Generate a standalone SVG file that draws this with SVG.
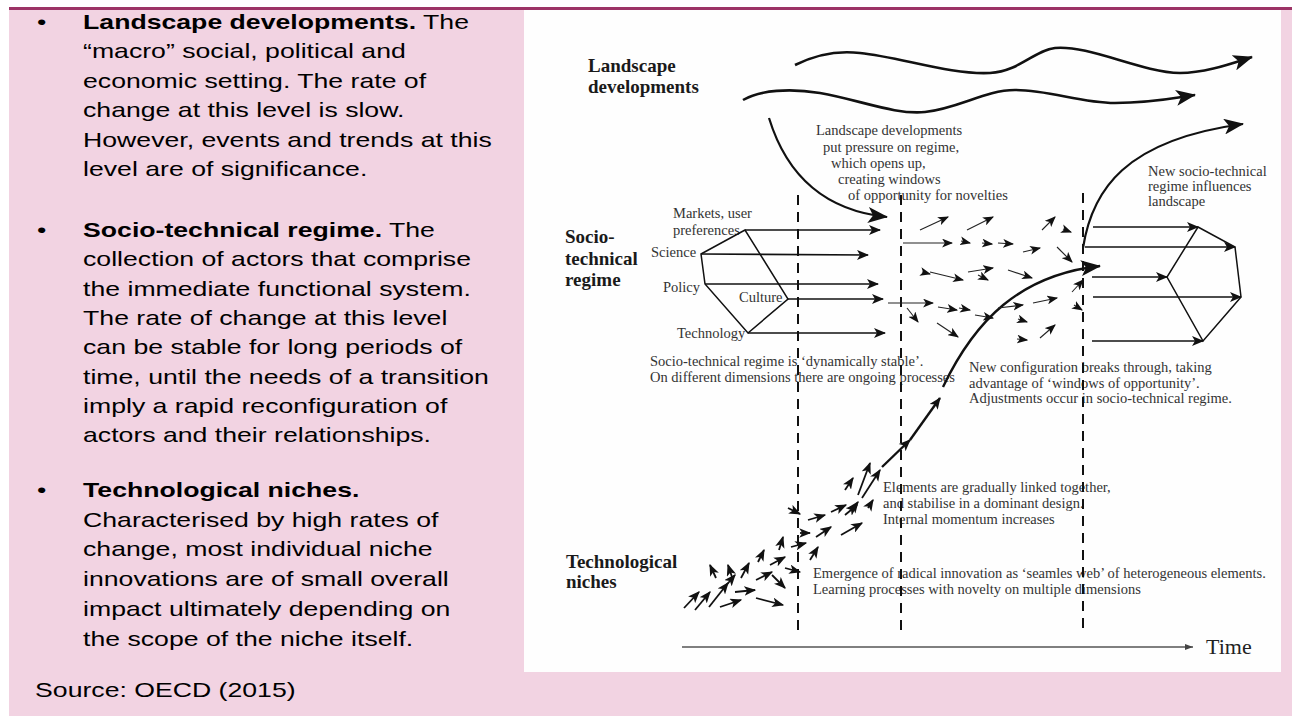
<svg xmlns="http://www.w3.org/2000/svg" width="1292" height="716" viewBox="0 0 1292 716">
<style>
.lt{font-family:"Liberation Sans",Arial,sans-serif;font-size:20px;fill:#000}
.b{font-weight:bold}
.dh{font-family:"Liberation Serif","Times New Roman",serif;font-weight:bold;font-size:19px;fill:#1a1a1a}
.dt{font-family:"Liberation Serif","Times New Roman",serif;font-size:14.5px;fill:#333}
.dash{stroke:#111;stroke-width:2;stroke-dasharray:10 7;fill:none}
.sa{stroke:#222;stroke-width:1.1;fill:none;marker-end:url(#mS)}
.na{stroke:#111;stroke-width:1.8;fill:none;marker-end:url(#mN)}
.ra{stroke:#111;stroke-width:1.6;fill:none;marker-end:url(#mM)}
.wv{stroke:#111;stroke-width:2.6;fill:none;marker-end:url(#mL)}
</style>
<defs>
<marker id="mS" viewBox="0 0 10 8" refX="9" refY="4" markerWidth="11" markerHeight="9" orient="auto" markerUnits="userSpaceOnUse"><path d="M0,0 L10,4 L0,8 L2.5,4 z" fill="#111"/></marker>
<marker id="mN" viewBox="0 0 10 8" refX="9" refY="4" markerWidth="12" markerHeight="10" orient="auto" markerUnits="userSpaceOnUse"><path d="M0,0 L10,4 L0,8 L2.5,4 z" fill="#111"/></marker>
<marker id="mM" viewBox="0 0 12 10" refX="11" refY="5" markerWidth="13" markerHeight="10" orient="auto" markerUnits="userSpaceOnUse"><path d="M0,0 L12,5 L0,10 L3,5 z" fill="#111"/></marker>
<marker id="mL" viewBox="0 0 20 16" refX="19" refY="8" markerWidth="20" markerHeight="16" orient="auto" markerUnits="userSpaceOnUse"><path d="M0,0 L20,8 L0,16 L5,8 z" fill="#111"/></marker>
<marker id="mT" viewBox="0 0 8 6" refX="8" refY="3" markerWidth="8" markerHeight="6" orient="auto" markerUnits="userSpaceOnUse"><path d="M0,0 L8,3 L0,6 z" fill="#444"/></marker>
</defs>
<rect x="0" y="0" width="1292" height="716" fill="#ffffff"/>
<rect x="9" y="9" width="1283" height="707" fill="#f2d3e2"/>
<rect x="9" y="7" width="1283" height="3" fill="#9c3366"/>
<rect x="524" y="10" width="757" height="662" fill="#fefefe"/>

<g id="left-text" transform="scale(1.333,1)">
<text class="lt" x="27.8" y="29">•</text>
<text class="lt" x="62.3" y="29"><tspan class="b">Landscape developments.</tspan> The</text>
<text class="lt" x="62.3" y="58.5">“macro” social, political and</text>
<text class="lt" x="62.3" y="88">economic setting. The rate of</text>
<text class="lt" x="62.3" y="117.5">change at this level is slow.</text>
<text class="lt" x="62.3" y="147">However, events and trends at this</text>
<text class="lt" x="62.3" y="176.5">level are of significance.</text>
<text class="lt" x="27.8" y="237">•</text>
<text class="lt" x="62.3" y="237"><tspan class="b">Socio-technical regime.</tspan> The</text>
<text class="lt" x="62.3" y="266.5">collection of actors that comprise</text>
<text class="lt" x="62.3" y="296">the immediate functional system.</text>
<text class="lt" x="62.3" y="325">The rate of change at this level</text>
<text class="lt" x="62.3" y="354.5">can be stable for long periods of</text>
<text class="lt" x="62.3" y="384">time, until the needs of a transition</text>
<text class="lt" x="62.3" y="413">imply a rapid reconfiguration of</text>
<text class="lt" x="62.3" y="442">actors and their relationships.</text>
<text class="lt" x="27.8" y="497">•</text>
<text class="lt b" x="62.3" y="497">Technological niches.</text>
<text class="lt" x="62.3" y="527">Characterised by high rates of</text>
<text class="lt" x="62.3" y="556.5">change, most individual niche</text>
<text class="lt" x="62.3" y="586.5">innovations are of small overall</text>
<text class="lt" x="62.3" y="616">impact ultimately depending on</text>
<text class="lt" x="62.3" y="646">the scope of the niche itself.</text>
<text class="lt" x="26.3" y="697">Source: OECD (2015)</text>
</g>

<g id="landscape">
<text class="dh" x="588" y="72">Landscape</text>
<text class="dh" x="588" y="93">developments</text>
<text class="dt" x="816" y="135" font-size="15">Landscape  developments</text>
<text class="dt" x="823" y="151.5" font-size="15">put pressure on regime,</text>
<text class="dt" x="831" y="167.5" font-size="15">which opens up,</text>
<text class="dt" x="838" y="183.5" font-size="15">creating windows</text>
<text class="dt" x="848" y="200" font-size="15">of opportunity for novelties</text>
</g>

<g id="regime">
<text class="dh" x="565" y="243">Socio-</text>
<text class="dh" x="565" y="265">technical</text>
<text class="dh" x="565" y="286">regime</text>
<text class="dt" x="673" y="218" font-size="14">Markets, user</text>
<text class="dt" x="673" y="235" font-size="14">preferences</text>
<text class="dt" x="651" y="257" font-size="14">Science</text>
<text class="dt" x="663" y="292" font-size="14">Policy</text>
<text class="dt" x="739" y="302" font-size="14">Culture</text>
<text class="dt" x="677" y="338" font-size="14">Technology</text>
<polygon points="745,230 701,254 705,284 748,333 788,299" fill="none" stroke="#111" stroke-width="1.5"/>
<text class="dt" x="650" y="366">Socio-technical regime  is ‘dynamically stable’.</text>
<text class="dt" x="650" y="382">On different dimensions there are ongoing processes</text>
</g>

<g id="niches">
<text class="dh" x="566" y="568">Technological</text>
<text class="dh" x="566" y="588">niches</text>
<text class="dt" x="883" y="492">Elements are gradually linked together,</text>
<text class="dt" x="883" y="508">and stabilise in a dominant design.</text>
<text class="dt" x="883" y="524">Internal momentum  increases</text>
<text class="dt" x="813" y="578">Emergence of radical innovation as ‘seamles web’ of heterogeneous elements.</text>
<text class="dt" x="813" y="594">Learning processes with novelty on multiple dimensions</text>
</g>

<g id="new-regime">
<text class="dt" x="1148" y="176">New  socio-technical</text>
<text class="dt" x="1148" y="191">regime influences</text>
<text class="dt" x="1148" y="205.5">landscape</text>
<text class="dt" x="969" y="372">New configuration breaks through, taking</text>
<text class="dt" x="969" y="388">advantage of ‘windows of opportunity’.</text>
<text class="dt" x="969" y="403">Adjustments occur in socio-technical regime.</text>
<polygon points="1198,227 1235,247 1241,297 1203,341 1167,277" fill="none" stroke="#111" stroke-width="1.5"/>
</g>

<g id="time-axis">
<line x1="682" y1="647" x2="1193" y2="647" stroke="#555" stroke-width="1.5" marker-end="url(#mT)"/>
<text x="1206" y="654" font-family="Liberation Serif, Times New Roman, serif" font-size="22" fill="#222">Time</text>
</g>

<g id="connectors">
<line class="dash" x1="798" y1="195" x2="798" y2="632"/>
<line class="dash" x1="901" y1="195" x2="901" y2="632"/>
<line class="dash" x1="1083" y1="193" x2="1083" y2="632"/>

<path class="wv" d="M795,65 C815,55 835,50 860,53 C900,57 950,75 990,73 C1020,71 1035,50 1055,48 C1090,45 1140,72 1180,73 C1205,73 1230,64 1252,57"/>
<path class="wv" d="M743,100 C760,90 790,88 820,93 C860,100 895,115 925,112 C960,108 985,90 1015,90 C1050,90 1080,103 1115,103 C1150,103 1175,98 1195,95"/>
<path class="wv" d="M769,118 C785,170 820,210 887,217" style="stroke-width:2.2"/>
<path class="wv" d="M1083,248 C1092,190 1125,140 1243,124" style="stroke-width:2.2"/>
<path class="wv" d="M943,387 C975,320 1020,275 1100,266" style="stroke-width:2.4"/>

<line class="ra" x1="745" y1="230" x2="880" y2="230"/>
<line class="ra" x1="701" y1="254" x2="868" y2="255"/>
<line class="ra" x1="705" y1="284" x2="878" y2="284"/>
<line class="ra" x1="788" y1="299" x2="883" y2="299"/>
<line class="ra" x1="748" y1="333" x2="885" y2="333"/>

<line class="ra" x1="1093" y1="227" x2="1198" y2="227"/>
<line class="ra" x1="1085" y1="247" x2="1235" y2="247"/>
<line class="ra" x1="1092" y1="277" x2="1167" y2="277"/>
<line class="ra" x1="1093" y1="297" x2="1241" y2="297"/>
<line class="ra" x1="1092" y1="341" x2="1203" y2="341"/>

<line class="sa" x1="920" y1="230" x2="948" y2="217"/>
<line class="sa" x1="967" y1="230" x2="993" y2="217"/>
<line class="sa" x1="1042" y1="230" x2="1055" y2="217"/>
<line class="sa" x1="1063" y1="229" x2="1071" y2="232"/>
<line class="sa" x1="903" y1="243" x2="952" y2="243"/>
<line class="sa" x1="961" y1="241" x2="970" y2="243"/>
<line class="sa" x1="982" y1="243" x2="992" y2="244"/>
<line class="sa" x1="998" y1="243" x2="1013" y2="244"/>
<line class="sa" x1="1023" y1="252" x2="1040" y2="248"/>
<line class="sa" x1="1057" y1="247" x2="1072" y2="262"/>
<line class="sa" x1="922" y1="272" x2="930" y2="274"/>
<line class="sa" x1="930" y1="272" x2="963" y2="280"/>
<line class="sa" x1="968" y1="272" x2="993" y2="268"/>
<line class="sa" x1="978" y1="275" x2="988" y2="280"/>
<line class="sa" x1="1008" y1="270" x2="1032" y2="278"/>
<line class="sa" x1="1072" y1="292" x2="1083" y2="280"/>
<line class="sa" x1="888" y1="303" x2="933" y2="303"/>
<line class="sa" x1="907" y1="308" x2="918" y2="322"/>
<line class="sa" x1="938" y1="307" x2="957" y2="310"/>
<line class="sa" x1="959" y1="308" x2="970" y2="310"/>
<line class="sa" x1="975" y1="315" x2="993" y2="318"/>
<line class="sa" x1="998" y1="308" x2="1023" y2="305"/>
<line class="sa" x1="1033" y1="303" x2="1057" y2="298"/>
<line class="sa" x1="1074" y1="305" x2="1082" y2="310"/>
<line class="sa" x1="937" y1="323" x2="958" y2="337"/>
<line class="sa" x1="1018" y1="319" x2="1027" y2="322"/>
<line class="sa" x1="1017" y1="339" x2="1027" y2="340"/>
<line class="sa" x1="1040" y1="338" x2="1055" y2="325"/>

<line class="na" x1="684" y1="608" x2="699" y2="592"/>
<line class="na" x1="695" y1="610" x2="710" y2="592"/>
<line class="na" x1="709" y1="607" x2="728" y2="583"/>
<line class="na" x1="720" y1="607" x2="741" y2="600"/>
<line class="na" x1="724" y1="588" x2="735" y2="575"/>
<line class="na" x1="735" y1="592" x2="755" y2="590"/>
<line class="na" x1="756" y1="598" x2="783" y2="605"/>
<line class="na" x1="716" y1="578" x2="710" y2="565"/>
<line class="na" x1="732" y1="577" x2="728" y2="565"/>
<line class="na" x1="741" y1="578" x2="749" y2="563"/>
<line class="na" x1="756" y1="580" x2="772" y2="572"/>
<line class="na" x1="772" y1="575" x2="785" y2="588"/>
<line class="na" x1="758" y1="562" x2="764" y2="550"/>
<line class="na" x1="770" y1="565" x2="785" y2="557"/>
<line class="na" x1="785" y1="568" x2="800" y2="572"/>
<line class="na" x1="779" y1="550" x2="783" y2="537"/>
<line class="na" x1="791" y1="547" x2="806" y2="543"/>
<line class="na" x1="810" y1="560" x2="818" y2="547"/>
<line class="na" x1="800" y1="533" x2="810" y2="533"/>
<line class="na" x1="816" y1="537" x2="831" y2="527"/>
<line class="na" x1="841" y1="535" x2="862" y2="523"/>
<line class="na" x1="788" y1="508" x2="800" y2="514"/>
<line class="na" x1="808" y1="520" x2="825" y2="515"/>
<line class="na" x1="831" y1="512" x2="846" y2="505"/>
<line class="na" x1="852" y1="510" x2="858" y2="502"/>
<line class="na" x1="868" y1="508" x2="873" y2="500"/>
<line class="na" x1="845" y1="490" x2="853" y2="478"/>
<line class="na" x1="858" y1="495" x2="870" y2="463"/>
<line class="na" x1="862" y1="498" x2="880" y2="470"/>
<line class="na" x1="845" y1="515" x2="857" y2="505"/>
<line class="ra" x1="882" y1="467" x2="910" y2="440" style="stroke-width:2.4"/>
<line class="ra" x1="910" y1="440" x2="940" y2="398" style="stroke-width:2.4"/>
</g>
</svg>
